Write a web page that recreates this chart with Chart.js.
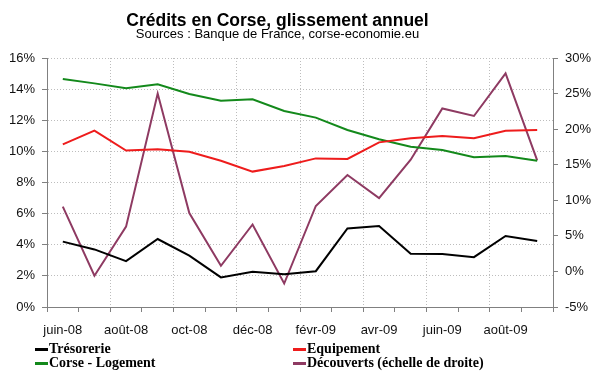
<!DOCTYPE html>
<html>
<head>
<meta charset="utf-8">
<script src="https://cdn.jsdelivr.net/npm/chart.js@4/dist/chart.umd.min.js"></script>
<style>
  body { margin: 0; background: #fff; }
  #wrap { position: relative; width: 600px; height: 372px; overflow: hidden; }
  #title { position: absolute; left: 0; width: 555px; top: 10px; text-align: center;
           font: bold 17.5px Arial, "Liberation Sans", sans-serif; line-height: 20px; color: #000; }
  #subtitle { position: absolute; left: 0; width: 555px; top: 26px; text-align: center;
              font: 13px Arial, "Liberation Sans", sans-serif; line-height: 15px; color: #000; }
  .leg { position: absolute; font: bold 14px "Liberation Serif", "Times New Roman", serif;
         line-height: 12px; color: #000; white-space: nowrap; }
  .leg i { position: absolute; left: -14px; top: 5px; width: 13px; height: 3px; }
</style>
</head>
<body>
<div id="wrap">
  <canvas id="chart" width="600" height="372"></canvas>
  <div id="title">Crédits en Corse, glissement annuel</div>
  <div id="subtitle">Sources : Banque de France, corse-economie.eu</div>
  <div id="legend"></div>
</div>
<script>
// Months, juin-08 .. sept-09
const months = ['juin-08', 'juil-08', 'août-08', 'sept-08', 'oct-08', 'nov-08', 'déc-08', 'janv-09',
                'févr-09', 'mars-09', 'avr-09', 'mai-09', 'juin-09', 'juil-09', 'août-09', 'sept-09'];

// Left scale (%)
const tresorerie = [4.2, 3.7, 2.95, 4.37, 3.3, 1.9, 2.27, 2.1, 2.3, 5.05, 5.2, 3.42, 3.4, 3.2, 4.56, 4.24];
const equipement = [10.45, 11.33, 10.05, 10.13, 9.98, 9.4, 8.7, 9.06, 9.55, 9.51, 10.58, 10.84, 10.99, 10.84, 11.33, 11.37];
const logement = [14.65, 14.37, 14.05, 14.31, 13.69, 13.26, 13.35, 12.6, 12.17, 11.37, 10.78, 10.3, 10.09, 9.62, 9.7, 9.4];
// Right scale (%)
const decouverts = [9.1, -0.6, 6.3, 25.0, 8.2, 0.8, 6.6, -1.7, 9.2, 13.55, 10.3, 15.7, 22.9, 21.85, 27.85, 15.6];

const leftTicks = { min: 0, max: 16, step: 2 };
const rightTicks = { min: -5, max: 30, step: 5 };

const FONT = 'Arial, "Liberation Sans", sans-serif';
const AXIS = '#808080';
const GRID = '#bdbdbd';

const series = [
    { label: 'Trésorerie', data: tresorerie, color: '#000000', axis: 'y', x: 49, y: 343 },
    { label: 'Equipement', data: equipement, color: '#ee1c1c', axis: 'y', x: 307, y: 343 },
    { label: 'Corse - Logement', data: logement, color: '#13891b', axis: 'y', x: 49, y: 357 },
    { label: 'Découverts (échelle de droite)', data: decouverts, color: '#8e3a62', axis: 'y1', x: 307, y: 357 },
];

// HTML legend, two columns like the original
const legend = document.getElementById('legend');
series.forEach(s => {
    const el = document.createElement('div');
    el.className = 'leg';
    el.style.left = s.x + 'px';
    el.style.top = s.y + 'px';
    el.innerHTML = '<i style="background:' + s.color + '"></i>' + s.label;
    legend.appendChild(el);
});

new Chart(document.getElementById('chart'), {
    type: 'line',
    data: {
        labels: months,
        datasets: series.map(s => ({
            label: s.label,
            data: s.data,
            yAxisID: s.axis,
            borderColor: s.color,
            backgroundColor: s.color,
            borderWidth: 2,
            pointRadius: 0,
            tension: 0,
        })),
    },
    options: {
        responsive: false,
        animation: false,
        devicePixelRatio: 1,
        layout: { padding: { top: 58, bottom: 35, left: 0, right: 0 } },
        plugins: { legend: { display: false }, tooltip: { enabled: false } },
        scales: {
            x: {
                offset: true,
                grid: {
                    offset: true,
                    color: ctx => (ctx.index % 2 === 0 ? GRID : 'rgba(0,0,0,0)'),
                    tickColor: AXIS,
                    tickLength: 5,
                },
                border: { color: AXIS, width: 1, dash: [1, 2] },
                ticks: {
                    autoSkip: false,
                    maxRotation: 0,
                    padding: 11,
                    color: '#111',
                    font: { family: FONT, size: 13 },
                    callback: (v, i) => (i % 2 === 0 ? months[i] : ''),
                },
                afterFit: scale => { scale.height = 30; },
            },
            y: {
                position: 'left',
                min: leftTicks.min,
                max: leftTicks.max,
                grid: { color: GRID, tickColor: AXIS, tickLength: 5 },
                border: { color: AXIS, width: 1, dash: [1, 2] },
                ticks: {
                    stepSize: leftTicks.step,
                    padding: 7,
                    color: '#111',
                    font: { family: FONT, size: 13 },
                    callback: v => v + '%',
                },
                afterFit: scale => { scale.width = 47; },
            },
            y1: {
                position: 'right',
                min: rightTicks.min,
                max: rightTicks.max,
                grid: { drawOnChartArea: false, color: AXIS, tickLength: 5 },
                border: { color: AXIS, width: 1 },
                ticks: {
                    stepSize: rightTicks.step,
                    padding: 7,
                    color: '#111',
                    font: { family: FONT, size: 13 },
                    callback: v => v + '%',
                },
                afterFit: scale => { scale.width = 47; },
            },
        },
    },
});
</script>
</body>
</html>
